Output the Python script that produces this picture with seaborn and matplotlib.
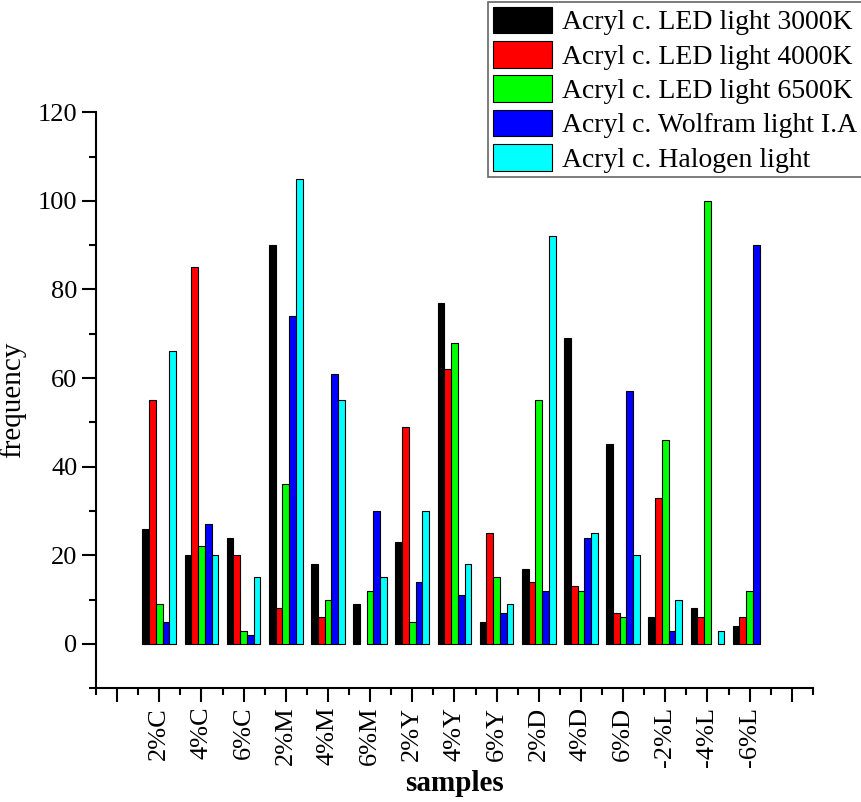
import numpy as np
import pandas as pd
import matplotlib
matplotlib.use("Agg")
import matplotlib.pyplot as plt
from matplotlib.ticker import MultipleLocator, FixedLocator
import seaborn as sns

samples = ["2%C", "4%C", "6%C", "2%M", "4%M", "6%M", "2%Y", "4%Y", "6%Y",
           "2%D", "4%D", "6%D", "-2%L", "-4%L", "-6%L"]
lights = ["Acryl c. LED light 3000K", "Acryl c. LED light 4000K",
          "Acryl c. LED light 6500K", "Acryl c. Wolfram light I.A",
          "Acryl c. Halogen light"]

# values (nan = no bar drawn)
led_3000 = [26, 20, 24, 90, 18, 9, 23, 77, 5, 17, 69, 45, 6, 8, 4]
led_4000 = [55, 85, 20, 8, 6, np.nan, 49, 62, 25, 14, 13, 7, 33, 6, 6]
led_6500 = [9, 22, 3, 36, 10, 12, 5, 68, 15, 55, 12, 6, 46, 100, 12]
wolfram = [5, 27, 2, 74, 61, 30, 14, 11, 7, 12, 24, 57, 3, np.nan, 90]
halogen = [66, 20, 15, 105, 55, 15, 30, 18, 9, 92, 25, 20, 10, 3, np.nan]

colors = ["#000000", "#ff0000", "#00ff00", "#0000ff", "#00ffff"]

series = [led_3000, led_4000, led_6500, wolfram, halogen]
rows = []
for name, vals in zip(lights, series):
    for s, v in zip(samples, vals):
        rows.append({"sample": s, "light": name, "frequency": v})
df = pd.DataFrame(rows)

sns.set_style("ticks")
plt.rcParams["font.family"] = ["Liberation Serif", "DejaVu Serif"]
plt.rcParams["text.color"] = "black"
plt.rcParams["axes.labelcolor"] = "black"
plt.rcParams["xtick.color"] = "black"
plt.rcParams["ytick.color"] = "black"

fig = plt.figure(figsize=(8.62, 8.02), dpi=100)
ax = fig.add_axes([0.1114, 0.142, 0.8316, 0.718])

sns.barplot(data=df, x="sample", y="frequency", hue="light", order=samples,
            hue_order=lights, palette=colors, saturation=1, edgecolor="black",
            linewidth=0.8, width=0.8, errorbar=None, ax=ax)

ax.set_xlim(-1.5, 15.5)
ax.set_ylim(-10, 120)
ax.xaxis.set_major_locator(FixedLocator(np.arange(-1, 16)))
ax.set_xticklabels([""] + samples + [""], rotation=90, fontsize=19)
ax.xaxis.set_minor_locator(FixedLocator(np.arange(-1.5, 16, 1.0)))
ax.yaxis.set_major_locator(FixedLocator(np.arange(0, 121, 20)))
ax.yaxis.set_minor_locator(MultipleLocator(10))
ax.tick_params(axis="y", labelsize=19)
ax.tick_params(which="major", length=10, width=1.5, direction="out", color="black")
ax.tick_params(which="minor", length=5, width=1.5, direction="out", color="black")

for side in ["top", "right"]:
    ax.spines[side].set_visible(False)
for side in ["left", "bottom"]:
    ax.spines[side].set_linewidth(1.5)
    ax.spines[side].set_color("black")

ax.set_xlabel("samples", fontsize=21, fontweight="bold", labelpad=2)
ax.set_ylabel("frequency", fontsize=21, labelpad=8)

handles, labels = ax.get_legend_handles_labels()
ax.get_legend().remove()
leg = fig.legend(handles, labels, loc="upper right", bbox_to_anchor=(0.9995, 0.997),
                 fontsize=20, frameon=True, fancybox=False, framealpha=1,
                 edgecolor="0.4", handlelength=2.15, handleheight=1.1,
                 labelspacing=0.2, handletextpad=0.36, borderpad=0.15,
                 borderaxespad=0)
leg.get_frame().set_linewidth(1.2)

fig.savefig("out.png", dpi=100)
